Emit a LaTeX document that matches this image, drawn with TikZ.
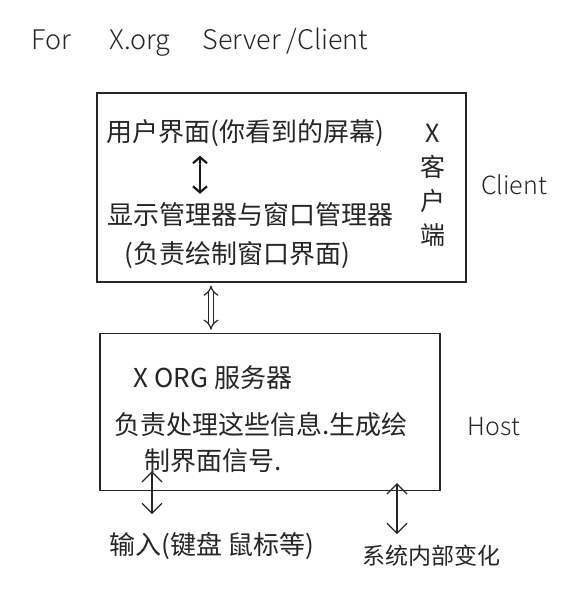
\documentclass[tikz,border=0pt]{standalone}
\usepackage{fontspec}
\setmainfont{Noto Sans CJK SC}
\newfontface\lightcjk{Noto Sans CJK SC Light}
\usetikzlibrary{arrows.meta,calc}
\tikzset{
  barbtip/.tip={Straight Barb[length=10pt,width=20pt,line width=1.3pt]},
  boldtip/.tip={Straight Barb[length=6pt,width=14pt,line width=2.2pt]},
  dbltip/.tip={Implies[length=10pt,width=26pt]}
}
\begin{document}
\begin{tikzpicture}[x=1pt,y=-1pt,
  ink/.style={draw=black!85, line width=1.3pt},
  cn/.style={font=\fontsize{26}{30}\selectfont, text=black!85, inner sep=0pt},
  lat/.style={font=\fontsize{25}{30}\selectfont\lightcjk, text=black!85, inner sep=0pt},
  arr/.style={draw=black!85, line width=1.3pt, arrows={barbtip-barbtip}},
  boldarr/.style={draw=black!90, line width=2.2pt, arrows={boldtip-boldtip}},
  dbl/.style={draw=black!85, line width=1.2pt, double distance=4pt, arrows={dbltip-dbltip}},
  box/.style={ink, minimum width=#1, inner sep=0pt}
]
\path[use as bounding box, fill=white] (0,0) rectangle (579,603);

\node[lat, font=\fontsize{27}{30}\selectfont\lightcjk] (title) at (200,42) {For\hspace{38pt}X.org\hspace{32pt}Server /Client};

% client box
\node[box=369pt, minimum height=189pt] (client) at (281.5,187.5) {};
\node[cn] (ui) at (245,133) {用户界面(你看到的屏幕)};
\node[cn] (dm) at (250,215) {显示管理器与窗口管理器};
\node[cn] (dm2) at (237,255) {(负责绘制窗口界面)};
\node[cn, align=center, font=\fontsize{25}{34}\selectfont] (xc) at (433,185) {X\\客\\户\\端};
\node[lat] (clientlbl) at (514,185) {Client};
\coordinate (mx) at (200,0);
\draw[boldarr] ($(ui.south -| mx)+(0,9)$) -- ($(dm.north -| mx)+(0,-9)$);
\coordinate (ax) at (211,0);
\draw[dbl] ($(client.south -| ax)+(0,3)$) -- ($(client.south -| ax)+(0,47)$);

% host box
\node[box=340pt, minimum height=157pt] (host) at (270,412) {};
\node[cn] (xorg) at (213,378) {X ORG 服务器};
\node[cn] (h1) at (261,425) {负责处理这些信息.生成绘};
\node[cn] (h2) at (213,461) {制界面信号.};
\node[lat] (hostlbl) at (494,427) {Host};

\node[cn] (input) at (212,546) {输入(键盘 鼠标等)};
\node[cn, font=\fontsize{23}{28}\selectfont] (sys) at (431,556) {系统内部变化};
\coordinate (lx) at (152,0);
\coordinate (rx) at (397,0);
\draw[arr] ($(host.south -| lx)+(0,-20)$) -- ($(input.north -| lx)+(0,-18)$);
\draw[arr] ($(host.south -| rx)+(0,-8)$) -- ($(sys.north -| rx)+(0,-11)$);
\end{tikzpicture}
\end{document}
